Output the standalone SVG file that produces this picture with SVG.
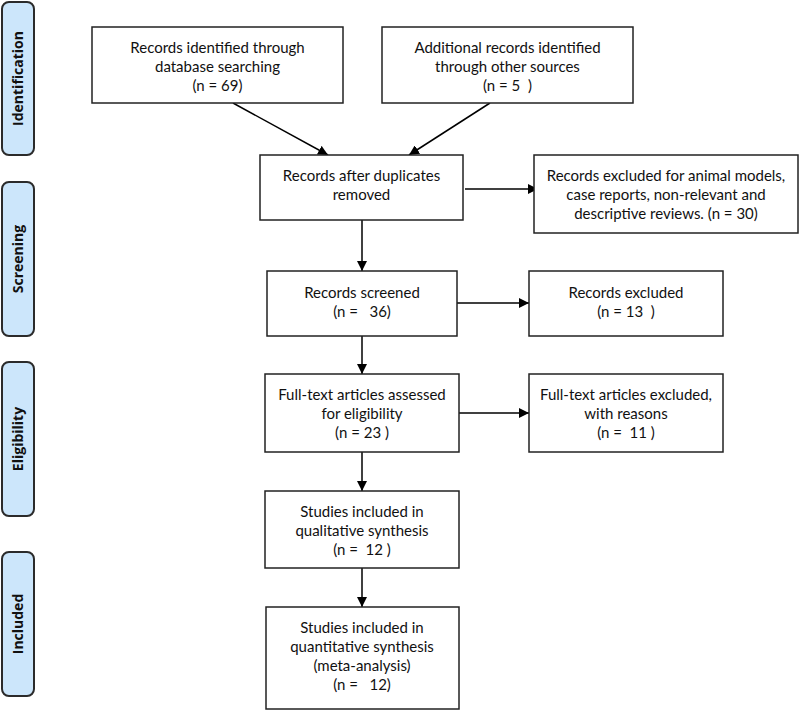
<svg xmlns="http://www.w3.org/2000/svg" width="800" height="711" viewBox="0 0 800 711">
<defs>
<marker id="ah" viewBox="0 0 10 10" refX="10" refY="5" markerWidth="10" markerHeight="10" markerUnits="userSpaceOnUse" orient="auto">
<path d="M0,0 L10,5 L0,10 z" fill="#000"/>
</marker>
<style>
.box{fill:#fff;stroke:#222;stroke-width:1.5}
.side{fill:#cce6fb;stroke:#2b2b2b;stroke-width:2}
.t{font-family:Lato,"Liberation Sans",sans-serif;font-size:15px;fill:#111;text-anchor:middle;white-space:pre}
.s{font-family:"Open Sans","Liberation Sans",sans-serif;font-size:14px;font-weight:bold;fill:#111;text-anchor:middle}
.c{stroke:#000;stroke-width:1.5;fill:none;marker-end:url(#ah)}
</style>
</defs>
<rect width="800" height="711" fill="#fff"/>
<g id="phase-identification"><rect class="side" x="2" y="2" width="32" height="153" rx="7"/><text class="s" transform="translate(23,78.5) rotate(-90)">Identification</text></g>
<g id="phase-screening"><rect class="side" x="2" y="182" width="32" height="154" rx="7"/><text class="s" transform="translate(23,259) rotate(-90)">Screening</text></g>
<g id="phase-eligibility"><rect class="side" x="2" y="362" width="32" height="154" rx="7"/><text class="s" transform="translate(23,439) rotate(-90)">Eligibility</text></g>
<g id="phase-included"><rect class="side" x="2" y="552" width="32" height="144" rx="7"/><text class="s" transform="translate(23,624) rotate(-90)">Included</text></g>

<g id="connectors">
<line class="c" x1="233" y1="103" x2="328" y2="155"/>
<line class="c" x1="490" y1="103" x2="409" y2="155"/>
<line class="c" x1="465" y1="189" x2="538" y2="189"/>
<line class="c" x1="362" y1="220" x2="362" y2="271"/>
<line class="c" x1="457" y1="303" x2="529" y2="303"/>
<line class="c" x1="362" y1="336" x2="362" y2="374"/>
<line class="c" x1="459" y1="413" x2="529" y2="413"/>
<line class="c" x1="362" y1="452" x2="362" y2="491"/>
<line class="c" x1="362" y1="568" x2="362" y2="607"/>
</g>

<g id="n1"><rect class="box" x="92" y="27" width="251" height="76"/>
<text class="t" x="217.5" y="53">Records identified through</text>
<text class="t" x="217.5" y="72">database searching</text>
<text class="t" x="217.5" y="91">(n = 69)</text></g>
<g id="n2"><rect class="box" x="382" y="27" width="251" height="76"/>
<text class="t" x="507.5" y="53">Additional records identified</text>
<text class="t" x="507.5" y="72">through other sources</text>
<text class="t" x="507.5" y="91">(n = 5  )</text></g>
<g id="n3"><rect class="box" x="260" y="155" width="203" height="65"/>
<text class="t" x="361.5" y="181">Records after duplicates</text>
<text class="t" x="361.5" y="200">removed</text></g>
<g id="n4"><rect class="box" x="534" y="155" width="264" height="78"/>
<text class="t" x="666" y="181">Records excluded for animal models,</text>
<text class="t" x="666" y="200">case reports, non-relevant and</text>
<text class="t" x="666" y="219">descriptive reviews. (n = 30)</text></g>
<g id="n5"><rect class="box" x="267" y="271" width="190" height="65"/>
<text class="t" x="362" y="298">Records screened</text>
<text class="t" x="362" y="317">(n =   36)</text></g>
<g id="n6"><rect class="box" x="529" y="271" width="194" height="65"/>
<text class="t" x="626" y="298">Records excluded</text>
<text class="t" x="626" y="317">(n = 13  )</text></g>
<g id="n7"><rect class="box" x="265" y="374" width="194" height="78"/>
<text class="t" x="362" y="400">Full-text articles assessed</text>
<text class="t" x="362" y="419">for eligibility</text>
<text class="t" x="362" y="438">(n = 23 )</text></g>
<g id="n8"><rect class="box" x="529" y="374" width="194" height="78"/>
<text class="t" x="626" y="400">Full-text articles excluded,</text>
<text class="t" x="626" y="419">with reasons</text>
<text class="t" x="626" y="438">(n =  11 )</text></g>
<g id="n9"><rect class="box" x="265" y="491" width="194" height="77"/>
<text class="t" x="362" y="517">Studies included in</text>
<text class="t" x="362" y="536">qualitative synthesis</text>
<text class="t" x="362" y="555">(n =  12 )</text></g>
<g id="n10"><rect class="box" x="266" y="607" width="193" height="102"/>
<text class="t" x="362" y="633">Studies included in</text>
<text class="t" x="362" y="652">quantitative synthesis</text>
<text class="t" x="362" y="671">(meta-analysis)</text>
<text class="t" x="362" y="690">(n =   12)</text></g>
</svg>
